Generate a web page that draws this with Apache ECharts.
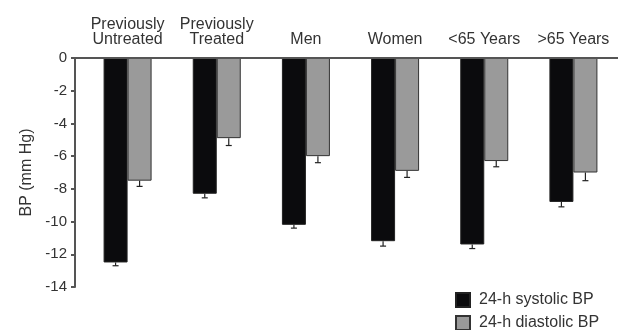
<!DOCTYPE html>
<html>
<head>
<meta charset="utf-8">
<script src="https://cdn.jsdelivr.net/npm/echarts@6/dist/echarts.min.js"></script>
<style>
  html, body { margin: 0; padding: 0; background: #fff; }
  #chart { width: 618px; height: 330px; }
</style>
</head>
<body>
<div id="chart"></div>
<script>
// Groups and 24-h ambulatory BP changes (mm Hg), mean with SE
const categories = ['Previously\nUntreated', 'Previously\nTreated', 'Men', 'Women', '<65 Years', '>65 Years'];
const systolic = [-12.5, -8.3, -10.2, -11.2, -11.4, -8.8];
const systolicErr = [0.2, 0.25, 0.2, 0.3, 0.25, 0.3];
const diastolic = [-7.5, -4.9, -6.0, -6.9, -6.3, -7.0];
const diastolicErr = [0.35, 0.45, 0.4, 0.4, 0.35, 0.5];
const yTicks = [0, -2, -4, -6, -8, -10, -12, -14];
const seriesNames = ['24-h systolic BP', '24-h diastolic BP'];

const FONT = '"Liberation Sans", Arial, sans-serif';
const TEXT = '#333';
const AXIS = '#555';
const BAR_W = 24;
const GRID_LEFT = 83;
const Y_OFFSET = 8;

const chart = echarts.init(document.getElementById('chart'), null, { renderer: 'canvas' });

// Half error bar (downward only) with a short cap
function errorSeries(values, errs, side) {
  return {
    type: 'custom',
    silent: true,
    z: 5,
    data: values.map((v, i) => [i, v, v - errs[i]]),
    renderItem: function (params, api) {
      const i = api.value(0);
      const top = api.coord([i, api.value(1)]);
      const bot = api.coord([i, api.value(2)]);
      const x = top[0] + side * BAR_W / 2;
      const cap = 3;
      return {
        type: 'group',
        children: [
          { type: 'line', shape: { x1: x, y1: top[1], x2: x, y2: bot[1] }, style: { stroke: '#222', lineWidth: 1.2 } },
          { type: 'line', shape: { x1: x - cap, y1: bot[1], x2: x + cap, y2: bot[1] }, style: { stroke: '#222', lineWidth: 1.2 } }
        ]
      };
    }
  };
}

function legendFor(name, top) {
  return {
    data: [name],
    left: 455,
    top: top,
    itemWidth: 14,
    itemHeight: 14,
    icon: 'rect',
    padding: 0,
    textStyle: { fontFamily: FONT, fontSize: 16, color: TEXT, padding: [0, 0, 0, 4] }
  };
}

const option = {
  animation: false,
  backgroundColor: '#fff',
  textStyle: { fontFamily: FONT },
  grid: { left: GRID_LEFT, top: 58, width: 537, height: 229, containLabel: false },
  legend: [legendFor(seriesNames[0], 292), legendFor(seriesNames[1], 315)],
  xAxis: {
    type: 'category',
    position: 'top',
    data: categories,
    axisLine: { show: false },
    axisTick: { show: false },
    axisLabel: {
      interval: 0,
      fontFamily: FONT,
      fontSize: 16,
      color: TEXT,
      lineHeight: 15,
      margin: 11
    }
  },
  yAxis: {
    type: 'value',
    min: -14,
    max: 0,
    interval: 2,
    offset: Y_OFFSET,
    name: 'BP (mm Hg)',
    nameLocation: 'middle',
    nameGap: 40,
    nameRotate: 90,
    nameTextStyle: { fontFamily: FONT, fontSize: 16, color: TEXT },
    axisLine: { show: true, lineStyle: { color: AXIS, width: 2 } },
    axisTick: { show: true, length: 4, lineStyle: { color: AXIS, width: 2 } },
    axisLabel: { fontFamily: FONT, fontSize: 15, color: TEXT, margin: 8,
      formatter: v => yTicks.includes(v) ? String(v) : '' },
    splitLine: { show: false }
  },
  series: [
    {
      name: seriesNames[0],
      type: 'bar',
      data: systolic,
      barWidth: BAR_W,
      barGap: '0%',
      itemStyle: { color: '#0b0b0d', borderColor: '#222', borderWidth: 1 }
    },
    {
      name: seriesNames[1],
      type: 'bar',
      data: diastolic,
      barWidth: BAR_W,
      itemStyle: { color: '#9a9a9a', borderColor: '#333', borderWidth: 1 }
    },
    errorSeries(systolic, systolicErr, -1),
    errorSeries(diastolic, diastolicErr, 1)
  ]
};

chart.setOption(option);

// Zero baseline, from the y axis line to the right edge
const y0 = chart.convertToPixel({ yAxisIndex: 0 }, 0);
chart.setOption({
  graphic: [{
    type: 'line',
    z: 10,
    shape: { x1: GRID_LEFT - Y_OFFSET, y1: y0, x2: chart.getWidth(), y2: y0 },
    style: { stroke: AXIS, lineWidth: 2 }
  }]
});
</script>
</body>
</html>
